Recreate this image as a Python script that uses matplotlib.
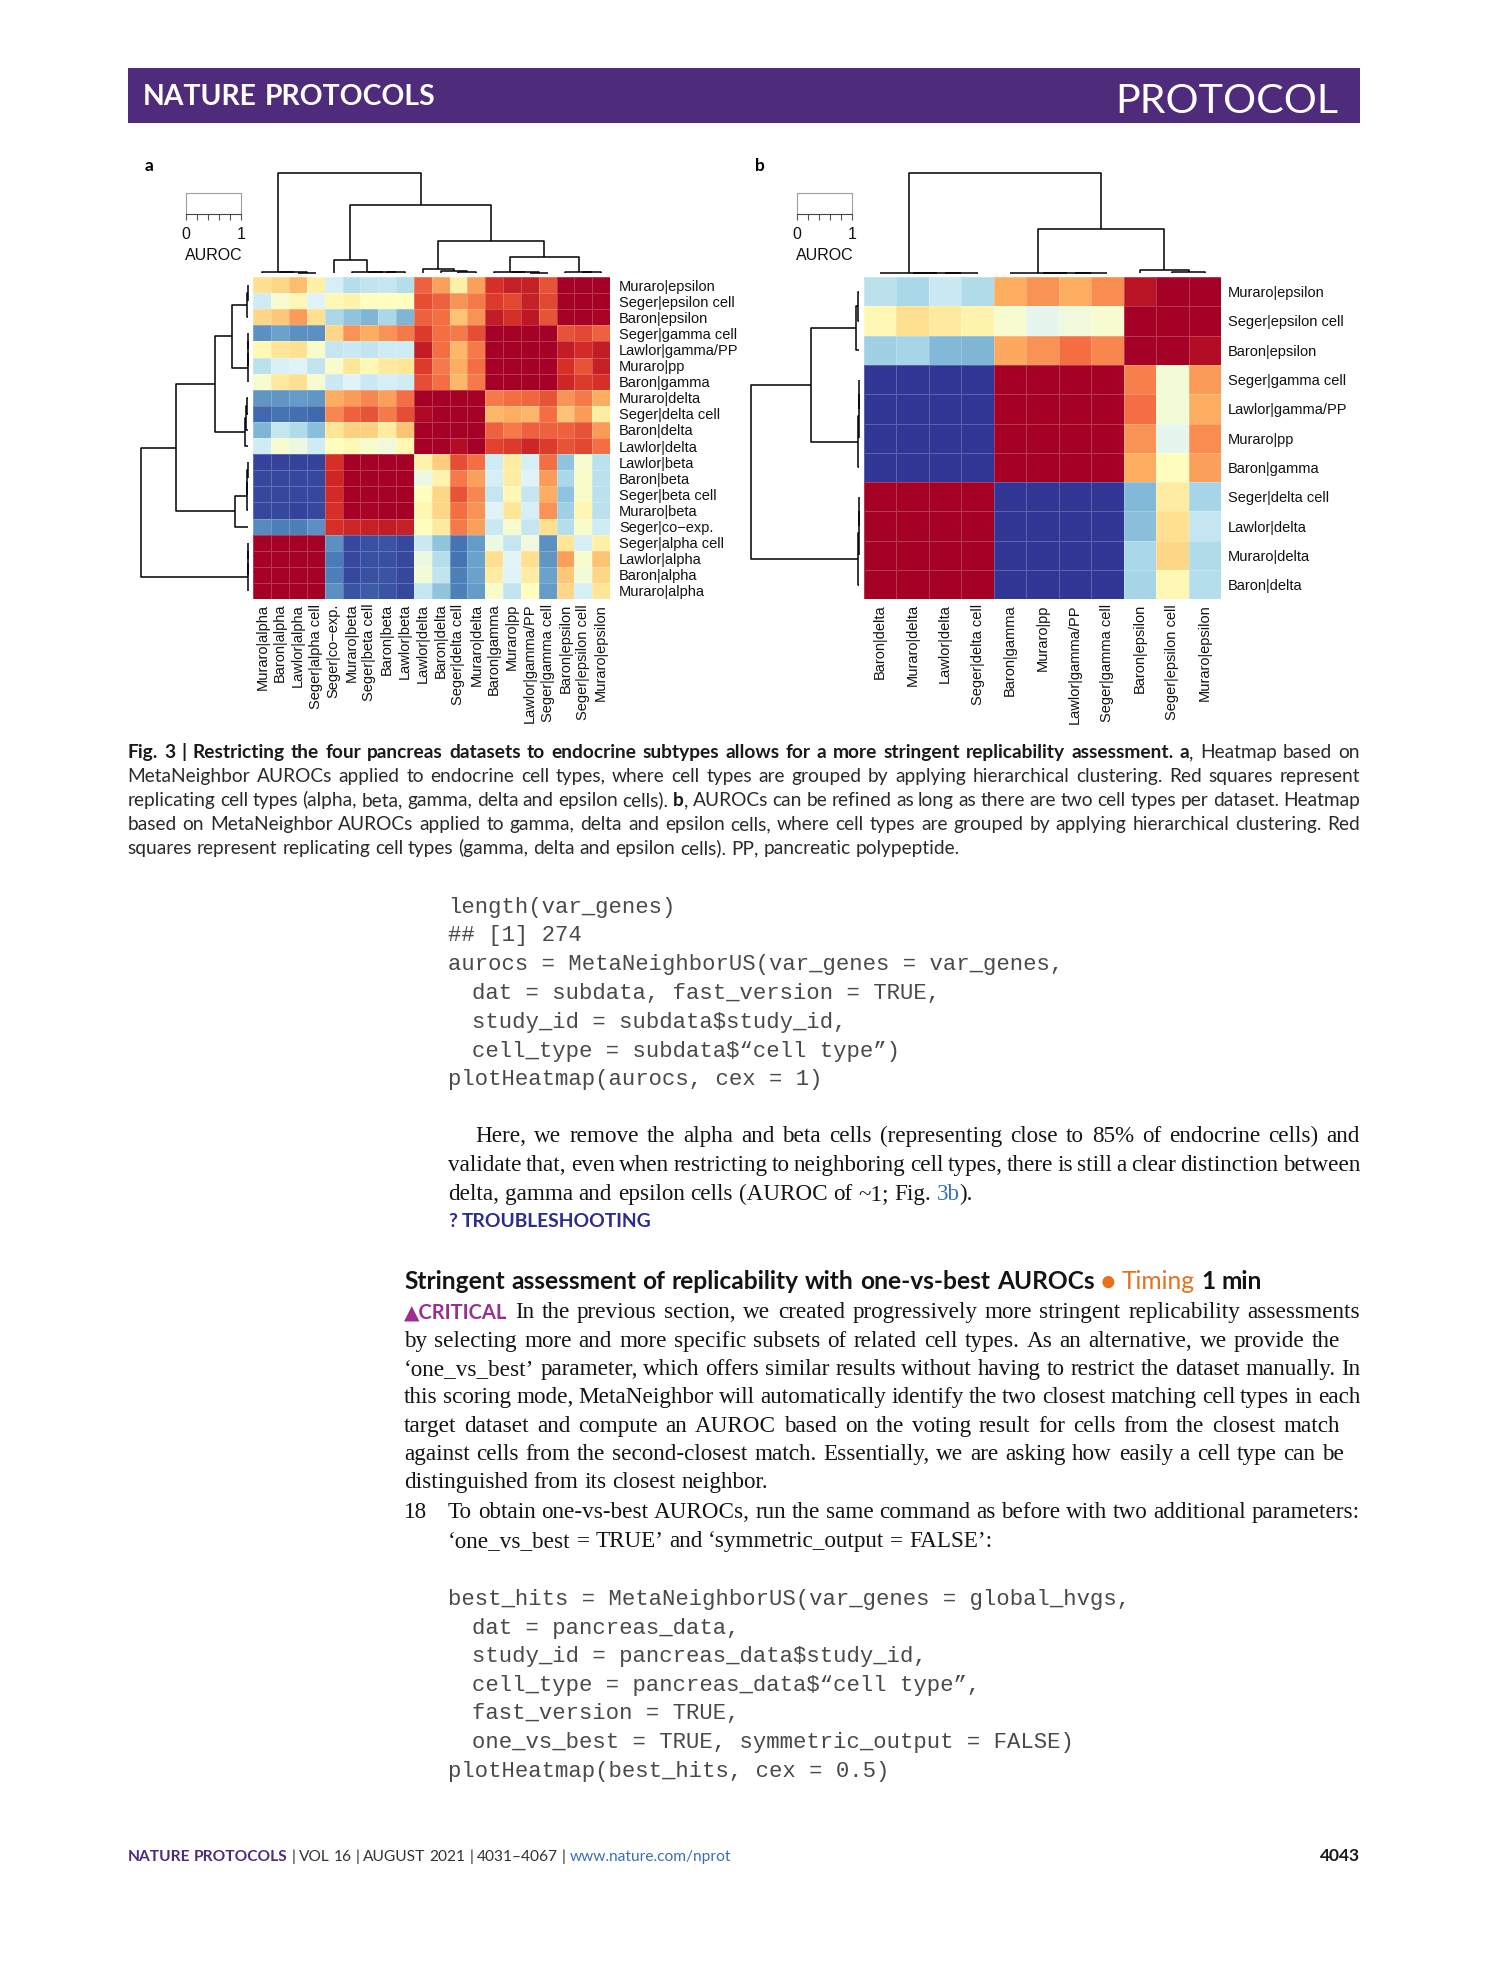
import numpy as np
import matplotlib
matplotlib.use("Agg")
import matplotlib.pyplot as plt
from matplotlib.font_manager import FontProperties
from matplotlib.patches import Rectangle

# ---------------------------------------------------------------- data
rows_a = ["Muraro|epsilon", "Seger|epsilon cell", "Baron|epsilon", "Seger|gamma cell",
          "Lawlor|gamma/PP", "Muraro|pp", "Baron|gamma", "Muraro|delta", "Seger|delta cell",
          "Baron|delta", "Lawlor|delta", "Lawlor|beta", "Baron|beta", "Seger|beta cell",
          "Muraro|beta", "Seger|co\u2212exp.", "Seger|alpha cell", "Lawlor|alpha",
          "Baron|alpha", "Muraro|alpha"]
cols_a = ["Muraro|alpha", "Baron|alpha", "Lawlor|alpha", "Seger|alpha cell",
          "Seger|co\u2212exp.", "Muraro|beta", "Seger|beta cell", "Baron|beta", "Lawlor|beta",
          "Lawlor|delta", "Baron|delta", "Seger|delta cell", "Muraro|delta", "Baron|gamma",
          "Muraro|pp", "Lawlor|gamma/PP", "Seger|gamma cell", "Baron|epsilon",
          "Seger|epsilon cell", "Muraro|epsilon"]
auroc_a = [
    [0.60, 0.62, 0.67, 0.55, 0.38, 0.32, 0.34, 0.35, 0.32, 0.82, 0.72, 0.55, 0.72, 0.90, 0.93, 0.93, 0.84, 1.00, 1.00, 1.00],
    [0.37, 0.47, 0.52, 0.40, 0.52, 0.54, 0.50, 0.50, 0.50, 0.85, 0.82, 0.74, 0.78, 0.88, 0.86, 0.93, 0.86, 1.00, 1.00, 1.00],
    [0.62, 0.65, 0.73, 0.60, 0.30, 0.25, 0.22, 0.30, 0.22, 0.82, 0.80, 0.66, 0.74, 0.94, 0.90, 0.95, 0.84, 1.00, 1.00, 0.99],
    [0.15, 0.18, 0.15, 0.15, 0.62, 0.74, 0.70, 0.74, 0.78, 0.88, 0.80, 0.78, 0.85, 1.00, 1.00, 1.00, 1.00, 0.84, 0.86, 0.82],
    [0.52, 0.58, 0.60, 0.48, 0.35, 0.36, 0.34, 0.37, 0.37, 0.94, 0.80, 0.68, 0.78, 1.00, 1.00, 1.00, 1.00, 0.94, 0.91, 0.94],
    [0.33, 0.39, 0.40, 0.34, 0.48, 0.58, 0.52, 0.57, 0.58, 0.88, 0.78, 0.70, 0.80, 1.00, 1.00, 1.00, 1.00, 0.90, 0.84, 0.93],
    [0.47, 0.57, 0.60, 0.47, 0.36, 0.40, 0.36, 0.38, 0.37, 0.85, 0.80, 0.68, 0.78, 1.00, 1.00, 1.00, 1.00, 0.92, 0.88, 0.90],
    [0.16, 0.16, 0.17, 0.16, 0.70, 0.73, 0.76, 0.72, 0.80, 1.00, 1.00, 1.00, 1.00, 0.78, 0.80, 0.81, 0.84, 0.74, 0.78, 0.70],
    [0.08, 0.10, 0.09, 0.08, 0.76, 0.82, 0.84, 0.78, 0.85, 0.98, 1.00, 1.00, 1.00, 0.68, 0.70, 0.68, 0.80, 0.66, 0.73, 0.56],
    [0.22, 0.35, 0.31, 0.24, 0.58, 0.63, 0.63, 0.56, 0.66, 1.00, 1.00, 1.00, 1.00, 0.82, 0.78, 0.82, 0.82, 0.82, 0.84, 0.73],
    [0.37, 0.47, 0.44, 0.37, 0.50, 0.52, 0.48, 0.45, 0.52, 1.00, 1.00, 0.97, 1.00, 0.87, 0.88, 0.92, 0.88, 0.84, 0.86, 0.80],
    [0.02, 0.02, 0.02, 0.02, 0.90, 1.00, 1.00, 1.00, 1.00, 0.54, 0.64, 0.85, 0.80, 0.37, 0.56, 0.38, 0.80, 0.25, 0.47, 0.33],
    [0.03, 0.03, 0.03, 0.03, 0.92, 1.00, 1.00, 1.00, 1.00, 0.44, 0.54, 0.78, 0.72, 0.38, 0.56, 0.40, 0.73, 0.30, 0.48, 0.33],
    [0.03, 0.03, 0.03, 0.03, 0.91, 1.00, 1.00, 1.00, 1.00, 0.50, 0.62, 0.84, 0.76, 0.35, 0.52, 0.35, 0.70, 0.25, 0.48, 0.33],
    [0.03, 0.03, 0.02, 0.03, 0.90, 1.00, 0.99, 1.00, 1.00, 0.53, 0.62, 0.80, 0.74, 0.40, 0.58, 0.38, 0.74, 0.28, 0.53, 0.33],
    [0.14, 0.12, 0.12, 0.15, 0.90, 0.92, 0.93, 0.94, 0.93, 0.50, 0.57, 0.78, 0.72, 0.36, 0.47, 0.35, 0.60, 0.32, 0.48, 0.37],
    [1.00, 1.00, 1.00, 1.00, 0.15, 0.03, 0.04, 0.05, 0.03, 0.36, 0.25, 0.10, 0.17, 0.44, 0.35, 0.45, 0.15, 0.58, 0.38, 0.55],
    [1.00, 1.00, 1.00, 1.00, 0.11, 0.03, 0.04, 0.04, 0.03, 0.44, 0.32, 0.10, 0.18, 0.60, 0.41, 0.60, 0.16, 0.72, 0.48, 0.66],
    [1.00, 1.00, 1.00, 1.00, 0.12, 0.03, 0.04, 0.05, 0.03, 0.46, 0.34, 0.12, 0.18, 0.56, 0.40, 0.56, 0.18, 0.65, 0.46, 0.62],
    [1.00, 1.00, 1.00, 1.00, 0.15, 0.05, 0.06, 0.05, 0.03, 0.35, 0.25, 0.12, 0.17, 0.48, 0.34, 0.50, 0.17, 0.62, 0.38, 0.58],
]
# dendrograms as nested [merge height, left, right]; leaves are matrix indices
col_tree_a = [1.0, [0.013, 0, [0.010, 1, [0.006, 2, 3]]],
              [0.679, [0.132, 4, [0.016, 5, [0.012, 6, [0.008, 7, 8]]]],
               [0.321, [0.040, 9, [0.027, 10, [0.014, 11, 12]]],
                [0.159, [0.014, 13, [0.010, 14, [0.006, 15, 16]]],
                 [0.017, 17, [0.012, 18, 19]]]]]]
row_tree_a = [1.0,
              [0.677,
               [0.310,
                [0.155, [0.012, [0.006, 0, 1], 2], [0.006, [0.004, [0.002, 3, 4], 5], 6]],
                [0.030, [0.020, [0.010, 7, 8], 9], 10]],
               [0.124, [0.012, [0.008, [0.004, 11, 12], 13], 14], 15]],
              [0.004, [0.003, [0.002, 16, 17], 18], 19]]

rows_b = ["Muraro|epsilon", "Seger|epsilon cell", "Baron|epsilon", "Seger|gamma cell",
          "Lawlor|gamma/PP", "Muraro|pp", "Baron|gamma", "Seger|delta cell", "Lawlor|delta",
          "Muraro|delta", "Baron|delta"]
cols_b = ["Baron|delta", "Muraro|delta", "Lawlor|delta", "Seger|delta cell", "Baron|gamma",
          "Muraro|pp", "Lawlor|gamma/PP", "Seger|gamma cell", "Baron|epsilon",
          "Seger|epsilon cell", "Muraro|epsilon"]
auroc_b = [
    [0.33, 0.30, 0.36, 0.31, 0.70, 0.74, 0.70, 0.75, 0.96, 1.00, 1.00],
    [0.52, 0.60, 0.57, 0.54, 0.47, 0.42, 0.45, 0.47, 1.00, 1.00, 1.00],
    [0.28, 0.29, 0.23, 0.22, 0.71, 0.74, 0.80, 0.76, 1.00, 1.00, 0.97],
    [0.00, 0.00, 0.00, 0.00, 1.00, 1.00, 1.00, 1.00, 0.77, 0.46, 0.73],
    [0.00, 0.00, 0.00, 0.00, 1.00, 1.00, 1.00, 1.00, 0.80, 0.46, 0.70],
    [0.00, 0.00, 0.00, 0.00, 1.00, 1.00, 1.00, 1.00, 0.74, 0.42, 0.75],
    [0.00, 0.00, 0.00, 0.00, 1.00, 1.00, 1.00, 1.00, 0.70, 0.50, 0.72],
    [1.00, 1.00, 1.00, 1.00, 0.00, 0.00, 0.00, 0.00, 0.23, 0.56, 0.29],
    [1.00, 1.00, 1.00, 1.00, 0.00, 0.00, 0.00, 0.00, 0.24, 0.60, 0.35],
    [1.00, 1.00, 1.00, 1.00, 0.00, 0.00, 0.00, 0.00, 0.30, 0.62, 0.31],
    [1.00, 1.00, 1.00, 1.00, 0.00, 0.00, 0.00, 0.00, 0.29, 0.52, 0.32],
]
col_tree_b = [1.0, [0.006, 0, [0.004, 1, [0.002, 2, 3]]],
              [0.443, [0.006, 4, [0.004, 5, [0.002, 6, 7]]], [0.033, 8, [0.010, 9, 10]]]]
row_tree_b = [1.0, [0.44, [0.030, [0.010, 0, 1], 2], [0.006, [0.004, [0.002, 3, 4], 5], 6]],
              [0.006, [0.004, [0.002, 7, 8], 9], 10]]

key_ticks = [0, 0.2, 0.4, 0.6, 0.8, 1.0]
key_ticklabels = ["0", "", "", "", "", "1"]

code1 = ["length(var_genes)", "## [1] 274", "aurocs = MetaNeighborUS(var_genes = var_genes,",
         "dat = subdata, fast_version = TRUE,", "study_id = subdata$study_id,",
         "cell_type = subdata$\u201ccell type\u201d)", "plotHeatmap(aurocs, cex = 1)"]
code1_indent = [0, 0, 0, 1, 1, 1, 0]
code2 = ["best_hits = MetaNeighborUS(var_genes = global_hvgs,", "dat = pancreas_data,",
         "study_id = pancreas_data$study_id,", "cell_type = pancreas_data$\u201ccell type\u201d,",
         "fast_version = TRUE,", "one_vs_best = TRUE, symmetric_output = FALSE)",
         "plotHeatmap(best_hits, cex = 0.5)"]
code2_indent = [0, 1, 1, 1, 1, 1, 0]

# ---------------------------------------------------------------- figure
W, H, DPI = 1489, 1978, 100
plt.rcParams['font.family'] = ['Liberation Sans', 'DejaVu Sans']
fig = plt.figure(figsize=(W / DPI, H / DPI), dpi=DPI)
fig.patch.set_facecolor('white')
renderer = fig.canvas.get_renderer()


def add_ax(left, top, right, bottom):
    return fig.add_axes([left / W, 1 - bottom / H, (right - left) / W, (bottom - top) / H])


LAB = 10.5
KEYLAB = 11.5
PURPLE = '#4f2c7b'


def heatmap(box, data, rlab, clab, ypad):
    ax = add_ax(*box)
    m = np.array(data)
    nr, nc = m.shape
    ax.pcolormesh(np.arange(nc + 1), np.arange(nr + 1), m, cmap='RdYlBu_r', vmin=0, vmax=1,
                  edgecolors=(1, 1, 1, 0.22), linewidth=0.5)
    ax.set_xlim(0, nc)
    ax.set_ylim(nr, 0)
    for s in ax.spines.values():
        s.set_visible(False)
    ax.yaxis.tick_right()
    ax.set_yticks(np.arange(nr) + 0.5, rlab)
    ax.set_xticks(np.arange(nc) + 0.5, clab, rotation=90)
    ax.tick_params(length=0, labelsize=LAB, labelcolor='#111111')
    ax.tick_params(axis='x', pad=3.5)
    ax.tick_params(axis='y', pad=ypad)
    return ax


def draw_tree(ax, node, orient):
    if isinstance(node, int):
        return node + 0.5, 0.0
    h, l, r = node
    pl, hl = draw_tree(ax, l, orient)
    pr, hr = draw_tree(ax, r, orient)
    xs = [pl, pl, pr, pr]
    ys = [hl, h, h, hr]
    if orient == 'top':
        ax.plot(xs, ys, color='black', lw=1.1, clip_on=False, solid_capstyle='butt')
    else:
        ax.plot(ys, xs, color='black', lw=1.1, clip_on=False, solid_capstyle='butt')
    return (pl + pr) / 2, h


def dendro(box, tree, n, orient):
    ax = add_ax(*box)
    ax.axis('off')
    if orient == 'top':
        ax.set_xlim(0, n)
        ax.set_ylim(0, tree[0])
    else:
        ax.set_xlim(tree[0], 0)
        ax.set_ylim(n, 0)
    draw_tree(ax, tree, orient)


def colour_key(box):
    ax = add_ax(*box)
    ax.set_xlim(0, 1)
    ax.set_ylim(0, 1)
    ax.set_yticks([])
    ax.set_xticks(key_ticks, key_ticklabels)
    for s in ['top', 'left', 'right']:
        ax.spines[s].set_color('#a0a0a0')
        ax.spines[s].set_linewidth(0.8)
    ax.spines['bottom'].set_color('#444444')
    ax.spines['bottom'].set_linewidth(0.8)
    ax.tick_params(axis='x', length=4.3, width=0.8, color='#555555', pad=4.5,
                   labelsize=KEYLAB, labelcolor='#111111')
    ax.set_xlabel('AUROC', fontsize=KEYLAB, labelpad=5, color='#111111')


# panel a
heatmap((253.5, 277, 610, 599), auroc_a, rows_a, cols_a, 6.5)
dendro((253.5, 172.7, 610, 273.3), col_tree_a, 20, 'top')
dendro((141, 277, 248.3, 599), row_tree_a, 20, 'left')
colour_key((186, 193.3, 241, 214.3))
# panel b
heatmap((864, 277, 1221, 599.3), auroc_b, rows_b, cols_b, 5.0)
dendro((864, 172.7, 1221, 273.3), col_tree_b, 11, 'top')
dendro((751, 277, 859, 599.3), row_tree_b, 11, 'left')
colour_key((797, 193.3, 852, 214.3))

# ---------------------------------------------------------------- text helpers
LATO = ['Lato', 'DejaVu Sans']
SERIF = ['Liberation Serif', 'DejaVu Serif']
STY = {
    'hdr': dict(family=LATO, size=18, weight='bold', color='white'),
    'hdr2': dict(family=LATO, size=30, weight='normal', color='white'),
    'cap': dict(family=LATO, size=10.5, weight='normal', color='#2a2a2a'),
    'capb': dict(family=LATO, size=10.5, weight='bold', color='#1a1a1a'),
    'serif': dict(family=SERIF, size=14, weight='normal', color='#141414'),
    'serifblue': dict(family=SERIF, size=14, weight='normal', color='#3a6fb5'),
    'crit': dict(family=LATO, size=14.5, weight='bold', color='#9a2f8f', fixed=True),
    'trb': dict(family=LATO, size=13, weight='bold', color='#2b2d8c'),
    'head': dict(family=LATO, size=15, weight='bold', color='#141414'),
    'heador': dict(family=LATO, size=15, weight='normal', color='#e8701a'),
    'fbold': dict(family=LATO, size=9, weight='bold', color=PURPLE),
    'freg': dict(family=LATO, size=9, weight='normal', color='#333333'),
    'fblue': dict(family=LATO, size=9, weight='normal', color='#3a6fb5'),
}


def fp_of(name, scale=1.0):
    s = STY[name]
    sc = 1.0 if s.get('fixed') else scale
    return FontProperties(family=s['family'], size=s['size'] * sc, weight=s['weight'])


def tw(text, name, scale=1.0):
    w, h, d = renderer.get_text_width_height_descent(text, fp_of(name, scale), ismath=False)
    return w


def sp(name, scale=1.0):
    return tw('x x', name, scale) - tw('xx', name, scale)


def tokenize(runs):
    words = [[]]
    for text, st in runs:
        parts = text.split(' ')
        for i, p in enumerate(parts):
            if i > 0 and words[-1]:
                words.append([])
            if p:
                words[-1].append((p, st))
    return [w for w in words if w]


def word_w(word, scale):
    return sum(tw(t, n, scale) for t, n in word)


def draw_words(x0, y, words, scale, right):
    widths = [word_w(w, scale) for w in words]
    if right is not None and len(words) > 1:
        gap = (right - x0 - sum(widths)) / (len(words) - 1)
    else:
        gap = sp(words[-1][0][1], scale)
    x = x0
    for w, wd in zip(words, widths):
        xx = x
        for t, n in w:
            fig.text(xx / W, 1 - y / H, t, fontproperties=fp_of(n, scale), color=STY[n]['color'],
                     ha='left', va='baseline', parse_math=False)
            xx += tw(t, n, scale)
        x += wd + gap


def set_lines(lines, scale=None, squeeze=1.0):
    """squeeze < 1 lets the tightest line use word gaps narrower than a normal space."""
    toks = [tokenize(l[2]) for l in lines]
    if scale is None:
        ratios = []
        for (x0, y, runs, right), words in zip(lines, toks):
            if right is None:
                continue
            nat = sum(word_w(w, 1.0) for w in words) + squeeze * sp(words[-1][0][1], 1.0) * (len(words) - 1)
            ratios.append((right - x0) / nat)
        scale = min(ratios)
    for (x0, y, runs, right), words in zip(lines, toks):
        draw_words(x0, y, words, scale, right)
    return scale


# ---------------------------------------------------------------- page furniture
fig.patches.append(Rectangle((127.5 / W, 1 - 122.5 / H), (1360 - 127.5) / W, 55 / H,
                             transform=fig.transFigure, facecolor='#4f2c7b', edgecolor='none'))
set_lines([(143, 105, [("NATURE PROTOCOLS", 'hdr')], 435)])
set_lines([(1115, 112.7, [("PROTOCOL", 'hdr2')], 1338)])

fig.text(145 / W, 1 - 170.7 / H, "a", fontproperties=FontProperties(family=LATO, size=12.5, weight='bold'),
         ha='left', va='baseline')
fig.text(755 / W, 1 - 170.7 / H, "b", fontproperties=FontProperties(family=LATO, size=12.5, weight='bold'),
         ha='left', va='baseline')

# caption
set_lines([
    (127.5, 758.3, [("Fig. 3 | Restricting the four pancreas datasets to endocrine subtypes allows for a more "
                     "stringent replicability assessment. a", 'capb'), (", Heatmap based on", 'cap')], 1360),
    (127.5, 782.3, [("MetaNeighbor AUROCs applied to endocrine cell types, where cell types are grouped by "
                     "applying hierarchical clustering. Red squares represent", 'cap')], 1360),
    (127.5, 806.3, [("replicating cell types (alpha, beta, gamma, delta and epsilon cells). ", 'cap'),
                    ("b", 'capb'),
                    (", AUROCs can be refined as long as there are two cell types per dataset. Heatmap", 'cap')], 1360),
    (127.5, 830.3, [("based on MetaNeighbor AUROCs applied to gamma, delta and epsilon cells, where cell types "
                     "are grouped by applying hierarchical clustering. Red", 'cap')], 1360),
    (127.5, 854.3, [("squares represent replicating cell types (gamma, delta and epsilon cells). PP, pancreatic "
                     "polypeptide.", 'cap')], None),
], squeeze=0.85)

# code blocks
CODE_FP = FontProperties(family=['Liberation Mono', 'DejaVu Sans Mono'], size=16)
for i, (line, ind) in enumerate(zip(code1, code1_indent)):
    fig.text((448.5 + 23 * ind) / W, 1 - (912.7 + 28.8 * i) / H, line, fontproperties=CODE_FP,
             color='#4a4a4a', ha='left', va='baseline', parse_math=False)
for i, (line, ind) in enumerate(zip(code2, code2_indent)):
    fig.text((448.5 + 23 * ind) / W, 1 - (1605 + 28.6 * i) / H, line, fontproperties=CODE_FP,
             color='#4a4a4a', ha='left', va='baseline', parse_math=False)

# body serif text (one common size)
serif_scale = set_lines([
    (475, 1142.3, [("Here, we remove the alpha and beta cells (representing close to 85% of endocrine cells) and", 'serif')], 1360),
    (448, 1171.0, [("validate that, even when restricting to neighboring cell types, there is still a clear distinction between", 'serif')], 1360),
    (448, 1199.7, [("delta, gamma and epsilon cells (AUROC of ~1; Fig. ", 'serif'), ("3b", 'serifblue'), (").", 'serif')], None),
    (404, 1318.3, [("\u25b2CRITICAL", 'crit'), (" In the previous section, we created progressively more stringent replicability assessments", 'serif')], 1360),
    (404, 1346.7, [("by selecting more and more specific subsets of related cell types. As an alternative, we provide the", 'serif')], 1340),
    (404, 1375.0, [("\u2018one_vs_best\u2019 parameter, which offers similar results without having to restrict the dataset manually. In", 'serif')], 1360),
    (404, 1403.3, [("this scoring mode, MetaNeighbor will automatically identify the two closest matching cell types in each", 'serif')], 1360),
    (404, 1431.7, [("target dataset and compute an AUROC based on the voting result for cells from the closest match", 'serif')], 1340),
    (404, 1460.0, [("against cells from the second-closest match. Essentially, we are asking how easily a cell type can be", 'serif')], 1344),
    (404, 1488.3, [("distinguished from its closest neighbor.", 'serif')], None),
    (448, 1518.3, [("To obtain one-vs-best AUROCs, run the same command as before with two additional parameters:", 'serif')], 1360),
    (448, 1546.7, [("\u2018one_vs_best = TRUE\u2019 and \u2018symmetric_output = FALSE\u2019:", 'serif')], None),
], squeeze=0.7)
set_lines([(404, 1518.3, [("18", 'serif')], None)], scale=serif_scale)

set_lines([(448, 1226.7, [("? TROUBLESHOOTING", 'trb')], 651)])

# section heading
set_lines([(404, 1289.3, [("Stringent assessment of replicability with one-vs-best AUROCs ", 'head'),
                          ("\u25cf Timing", 'heador'), (" 1 min", 'head')], 1262)])

# footer
set_lines([(127.5, 1861, [("NATURE PROTOCOLS", 'fbold'),
                          (" | VOL 16 | AUGUST 2021 | 4031\u20134067 | ", 'freg'),
                          ("www.nature.com/nprot", 'fblue')], 731)])
fig.text(1360 / W, 1 - 1861 / H, "4043", fontproperties=FontProperties(family=LATO, size=12.5, weight='bold'),
         color='#1a1a1a', ha='right', va='baseline')

fig.savefig('out.png', dpi=DPI)
